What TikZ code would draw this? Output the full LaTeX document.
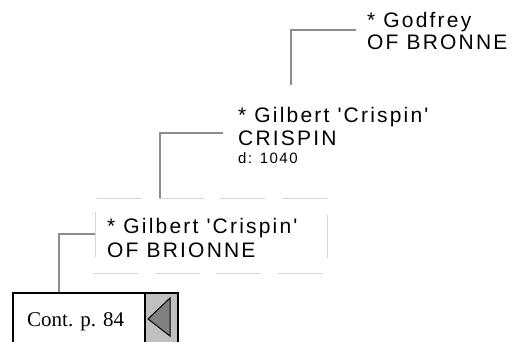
\documentclass[tikz,border=0pt]{standalone}
\usepackage{fontspec}
\newfontfamily\persfont{Liberation Sans}[LetterSpace=10.5]
\newfontfamily\smallpers{Liberation Sans}[LetterSpace=10]
\newfontfamily\contfont{Liberation Serif}
\definecolor{connc}{HTML}{8C8C8C}
\definecolor{dashc}{HTML}{D6D6D6}
\definecolor{tabc}{HTML}{C0C0C0}
\definecolor{tric}{HTML}{808080}
\tikzset{
  pers/.style={anchor=base west, inner sep=0pt, font=\persfont\fontsize{21pt}{24pt}\selectfont},
  perssmall/.style={anchor=base west, inner sep=0pt, font=\smallpers\fontsize{15pt}{17pt}\selectfont},
  pbox/.style={anchor=north west, inner sep=0pt, minimum width=#1},
  conn/.style={draw=connc, line width=1.4pt},
  dashln/.style={draw=dashc, line width=1pt, dash pattern=on 45pt off 16.7pt},
}
\begin{document}
\begin{tikzpicture}[x=1pt,y=-1pt]
\useasboundingbox (0,0) rectangle (514,341);
\clip (0,0) rectangle (514,341);
% invisible person boxes
\node[pbox=158pt, minimum height=60pt] (bGod) at (356,5) {};
\node[pbox=232pt, minimum height=88pt] (bCri) at (223,85) {};
\node[pbox=232pt, minimum height=75pt] (bBri) at (95,198) {};
% texts
\node[pers] (god1) at (367,27) {* Godfrey};
\node[pers] (god2) at (367,49) {OF BRONNE};
\node[pers] (cri1) at (238,122) {* Gilbert 'Crispin'};
\node[pers] (cri2) at (238,145) {CRISPIN};
\node[perssmall] (cri3) at (238,163) {d: 1040};
\node[pers] (bri1) at (107,233) {* Gilbert 'Crispin'};
\node[pers] (bri2) at (107,257) {OF BRIONNE};
% dashed frame around current person
\draw[dashln] ([xshift=2pt]bBri.north west) -- (bBri.north east);
\draw[dashln] ([xshift=-2pt]bBri.south west) -- ([xshift=-2pt]bBri.south east);
\draw[draw=dashc, line width=1pt] ([yshift=-14pt]bBri.north west) -- ([yshift=16pt]bBri.south west);
\draw[draw=dashc, line width=1pt] ([yshift=-17pt]bBri.north east) -- ([yshift=15pt]bBri.south east);
% continuation box
\node[anchor=north west, inner sep=0pt, minimum width=165pt, minimum height=70pt, draw=black, line width=1.6pt] (cont) at (12,292) {};
\node[anchor=north east, inner sep=0pt, minimum width=33pt, minimum height=70pt, fill=tabc, draw=black, line width=1.6pt] (tab) at (cont.north east) {};
\node[anchor=base west, inner sep=0pt, font=\contfont\fontsize{21pt}{24pt}\selectfont] (contt) at (27,326) {Cont. p. 84};
\coordinate (tip) at (148,319);
\coordinate (trt) at (170,298);
\coordinate (trb) at (170,336);
\draw[fill=tric, draw=black, line width=1pt, line join=miter] (tip) -- (trt) -- (trb) -- cycle;
% connectors
\draw[conn] ([yshift=-25pt]bGod.north west) -| ([xshift=68pt]bCri.north west);
\draw[conn] ([yshift=-48pt]bCri.north west) -| ([xshift=65pt]bBri.north west);
\draw[conn] ([yshift=-36pt]bBri.north west) -| ([xshift=47pt]cont.north west);
\end{tikzpicture}
\end{document}
